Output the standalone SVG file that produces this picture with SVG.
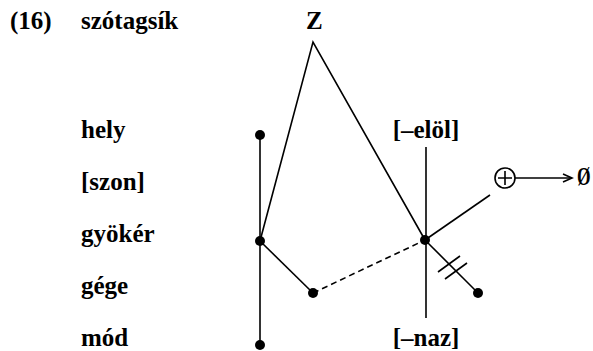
<svg xmlns="http://www.w3.org/2000/svg" width="593" height="351" viewBox="0 0 593 351">
<style>
text{font-family:"Liberation Serif","Times New Roman",Tinos,"DejaVu Serif",serif;font-size:25px;font-weight:bold;fill:#000}
.ln{stroke:#000;stroke-width:1.6;fill:none}
.dot{fill:#000}
</style>
<defs>
<marker id="ar" markerWidth="12" markerHeight="12" refX="10" refY="5" orient="auto" markerUnits="userSpaceOnUse">
<path d="M1,1 L10,5 L1,9" fill="none" stroke="#000" stroke-width="1.6"/>
</marker>
</defs>
<rect width="593" height="351" fill="#fff"/>
<g id="labels">
<text x="10" y="29">(16)</text>
<text x="81" y="29">szótagsík</text>
<text x="81" y="138">hely</text>
<text x="81" y="190">[szon]</text>
<text x="81" y="242">gyökér</text>
<text x="81" y="294">gége</text>
<text x="81" y="346">mód</text>
</g>
<g id="connectors">
<path class="ln" d="M260,135 V345"/>
<path class="ln" d="M426,147 V318"/>
<path class="ln" d="M260,241 L313,42 L425,240"/>
<path class="ln" d="M260,241 L313,293"/>
<path class="ln" d="M313,293 L425,240" stroke-dasharray="6,4"/>
<path class="ln" d="M425,240 L478,293"/>
<path class="ln" d="M438,272 L460,256 M445,279 L467,263"/>
<path class="ln" d="M425,240 L490,195"/>
<path class="ln" d="M515,178 L572,178" marker-end="url(#ar)"/>
</g>
<g id="node-Z"><text x="306" y="29">Z</text></g>
<g id="node-elol"><text x="426" y="138" text-anchor="middle">[–elöl]</text></g>
<g id="node-naz"><text x="426" y="346" text-anchor="middle">[–naz]</text></g>
<g id="node-plus">
<circle cx="505" cy="178" r="10" class="ln"/>
<path class="ln" d="M498,178 H512 M505,171 V185"/>
</g>
<g id="node-empty"><text transform="translate(577,185) scale(0.7,1)" x="0" y="0" font-size="21">Ø</text></g>
<g id="dots">
<circle class="dot" cx="260" cy="135" r="5"/>
<circle class="dot" cx="260" cy="241" r="5"/>
<circle class="dot" cx="260" cy="345" r="5"/>
<circle class="dot" cx="313" cy="293" r="5"/>
<circle class="dot" cx="425" cy="240" r="5"/>
<circle class="dot" cx="478" cy="293" r="5"/>
</g>
</svg>
